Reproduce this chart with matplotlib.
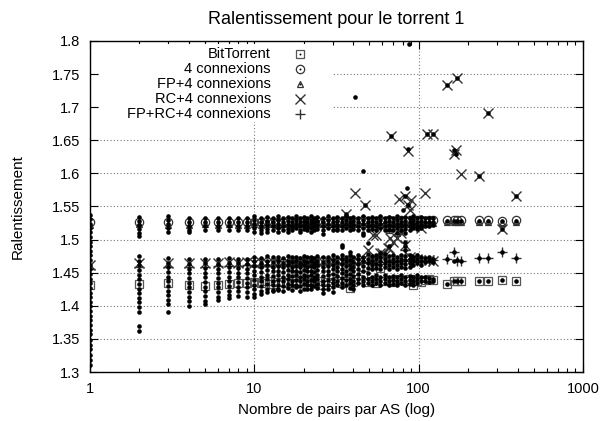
import matplotlib
matplotlib.use("Agg")
import matplotlib.pyplot as plt
from matplotlib.patches import Rectangle
from matplotlib.ticker import LogLocator, NullFormatter

plt.rcParams["font.family"] = ["Liberation Sans", "DejaVu Sans"]

# x positions (number of peers per AS)
cols = [1, 2, 3, 4, 5, 6, 7, 8, 9,
        10, 11, 12, 13, 14, 15, 16, 17, 18, 19, 20, 21, 22, 23, 24,
        26, 28, 30, 32, 34, 36, 38, 40, 43, 46, 49, 52, 55, 58,
        62, 66, 70, 74, 78, 83, 88, 93, 98, 104, 110, 116, 122,
        148, 165, 172, 180, 232, 264, 321, 390]

# mean slowdown per configuration
bt_y = [1.432, 1.433, 1.434, 1.431, 1.430, 1.431, 1.433, 1.434, 1.435,
        1.436, 1.434, 1.437, 1.433, 1.436, 1.436, 1.435, 1.438, 1.434, 1.437, 1.438, 1.439, 1.436, 1.434, 1.437,
        1.431, 1.436, 1.442, 1.437, 1.435, 1.438, 1.427, 1.436, 1.440, 1.446, 1.436, 1.438, 1.434, 1.457,
        1.437, 1.439, 1.436, 1.441, 1.439, 1.438, 1.440, 1.431, 1.438, 1.436, 1.439, 1.440, 1.439,
        1.433, 1.437, 1.438, 1.437, 1.437, 1.437, 1.439, 1.437]
c4_y = [1.527, 1.527, 1.527, 1.526, 1.527, 1.527, 1.527, 1.526, 1.527,
        1.527, 1.526, 1.528, 1.527, 1.527, 1.526, 1.528, 1.527, 1.527, 1.528, 1.527, 1.526, 1.528, 1.527, 1.528,
        1.527, 1.528, 1.527, 1.528, 1.527, 1.528, 1.528, 1.527, 1.528, 1.529, 1.528, 1.527, 1.528, 1.529,
        1.528, 1.529, 1.528, 1.527, 1.529, 1.528, 1.529, 1.528, 1.529, 1.529, 1.528, 1.529, 1.529,
        1.529, 1.529, 1.530, 1.529, 1.529, 1.529, 1.528, 1.529]
fp4_y = [1.522, 1.523, 1.522, 1.522, 1.523, 1.522, 1.523, 1.522, 1.522,
         1.523, 1.522, 1.523, 1.523, 1.522, 1.523, 1.523, 1.522, 1.523, 1.524, 1.523, 1.522, 1.523, 1.524, 1.523,
         1.523, 1.524, 1.523, 1.524, 1.523, 1.524, 1.523, 1.524, 1.524, 1.523, 1.524, 1.523, 1.524, 1.522,
         1.524, 1.514, 1.523, 1.510, 1.524, 1.523, 1.524, 1.525, 1.524, 1.525, 1.524, 1.525, 1.525,
         1.526, 1.526, 1.527, 1.526, 1.526, 1.526, 1.525, 1.526]
rc_y = [1.461, 1.464, 1.465, 1.464, 1.465, 1.465, 1.466, 1.465, 1.466,
        1.465, 1.466, 1.465, 1.466, 1.466, 1.465, 1.466, 1.467, 1.466, 1.466, 1.467, 1.466, 1.467, 1.466, 1.467,
        1.466, 1.467, 1.468, 1.467, 1.468, 1.467, 1.468, 1.468, 1.468, 1.470, 1.484, 1.470, 1.507, 1.480,
        1.477, 1.487, 1.496, 1.502, 1.510, 1.492, 1.474, 1.472, 1.470, 1.517, 1.570, 1.469, 1.468,
        1.733, 1.629, 1.744, 1.599, 1.596, 1.691, 1.516, 1.566]
fprc_y = [1.455, 1.458, 1.458, 1.459, 1.459, 1.460, 1.460, 1.460, 1.461,
          1.460, 1.461, 1.460, 1.461, 1.461, 1.462, 1.461, 1.462, 1.461, 1.462, 1.462, 1.463, 1.462, 1.463, 1.462,
          1.463, 1.463, 1.464, 1.463, 1.464, 1.464, 1.465, 1.464, 1.465, 1.465, 1.466, 1.465, 1.466, 1.466,
          1.466, 1.467, 1.466, 1.467, 1.467, 1.484, 1.468, 1.467, 1.468, 1.468, 1.469, 1.468, 1.469,
          1.470, 1.481, 1.468, 1.468, 1.472, 1.472, 1.481, 1.472]

# RC+4 scattered points above the band
rc_extra_x = [36, 41, 47, 53, 60, 65, 67, 68, 76, 82, 86, 88, 90, 86, 113, 122, 168]
rc_extra_y = [1.539, 1.570, 1.552, 1.507, 1.480, 1.488, 1.502, 1.657, 1.562, 1.566, 1.553, 1.545, 1.560,
              1.634, 1.659, 1.659, 1.636]

# individual slowdowns (small dots), upper and lower clusters per column
dot_upper = [
    [1.537, 1.531, 1.524, 1.518, 1.511, 1.504],
    [1.534, 1.528, 1.522, 1.516, 1.510, 1.505],
    [1.535, 1.529, 1.523, 1.517, 1.511],
    [1.533, 1.527, 1.521, 1.515, 1.512],
    [1.532, 1.526, 1.520, 1.514],
    [1.532, 1.526, 1.520, 1.514],
    [1.533, 1.527, 1.521, 1.515],
    [1.533, 1.527, 1.521, 1.514],
    [1.532, 1.526, 1.520, 1.514],
    [1.535, 1.529, 1.523, 1.517, 1.511],
    [1.533, 1.527, 1.521, 1.515, 1.510],
    [1.534, 1.528, 1.522, 1.516, 1.512],
    [1.532, 1.526, 1.520, 1.514],
    [1.535, 1.529, 1.523, 1.517, 1.512],
    [1.533, 1.527, 1.521, 1.515],
    [1.534, 1.528, 1.522, 1.516, 1.511],
    [1.532, 1.526, 1.520, 1.514],
    [1.535, 1.529, 1.523, 1.517],
    [1.533, 1.527, 1.521, 1.515, 1.511],
    [1.534, 1.528, 1.522, 1.516],
    [1.532, 1.526, 1.520, 1.514],
    [1.535, 1.529, 1.523, 1.517, 1.512],
    [1.533, 1.527, 1.521, 1.515],
    [1.534, 1.528, 1.522, 1.516],
    [1.532, 1.526, 1.520, 1.514, 1.508],
    [1.535, 1.529, 1.523, 1.517],
    [1.533, 1.527, 1.521, 1.515],
    [1.534, 1.528, 1.522, 1.516, 1.514],
    [1.532, 1.526, 1.520, 1.514],
    [1.535, 1.529, 1.523, 1.517],
    [1.533, 1.527, 1.521, 1.515],
    [1.534, 1.528, 1.522, 1.516],
    [1.532, 1.526, 1.520, 1.514],
    [1.535, 1.529, 1.523, 1.517, 1.510],
    [1.533, 1.527, 1.521, 1.515],
    [1.534, 1.528, 1.522, 1.516],
    [1.532, 1.526, 1.520, 1.514],
    [1.535, 1.529, 1.523, 1.517],
    [1.533, 1.527, 1.521, 1.515],
    [1.534, 1.528, 1.522, 1.516, 1.514],
    [1.532, 1.526, 1.520, 1.515],
    [1.535, 1.529, 1.523, 1.517, 1.510],
    [1.533, 1.527, 1.521, 1.515],
    [1.534, 1.528, 1.522, 1.516, 1.510],
    [1.532, 1.526, 1.520, 1.515],
    [1.535, 1.529, 1.523, 1.517],
    [1.533, 1.527, 1.521, 1.516],
    [1.534, 1.528, 1.522],
    [1.533, 1.527, 1.521],
    [1.532, 1.526, 1.520],
    [1.533, 1.527, 1.522],
    [1.528], [1.528], [1.528], [1.528], [1.528], [1.528], [1.528], [1.528],
]
dot_lower = [
    [1.497, 1.490, 1.483, 1.476, 1.469, 1.462, 1.455, 1.448, 1.441, 1.434, 1.427, 1.420, 1.413, 1.406,
     1.399, 1.392, 1.385, 1.378, 1.371, 1.364, 1.357, 1.349, 1.341, 1.334, 1.326, 1.318, 1.311],
    [1.475, 1.468, 1.461, 1.454, 1.447, 1.440, 1.433, 1.426, 1.419, 1.412, 1.405, 1.398, 1.391, 1.370, 1.362],
    [1.472, 1.465, 1.458, 1.451, 1.444, 1.437, 1.430, 1.423, 1.416, 1.409, 1.403, 1.390],
    [1.470, 1.463, 1.456, 1.449, 1.442, 1.435, 1.428, 1.421, 1.414, 1.407, 1.400],
    [1.471, 1.464, 1.457, 1.450, 1.443, 1.436, 1.429, 1.422, 1.415, 1.408, 1.402],
    [1.470, 1.463, 1.456, 1.449, 1.442, 1.435, 1.428, 1.421, 1.414, 1.409],
    [1.472, 1.465, 1.458, 1.451, 1.444, 1.437, 1.430, 1.423, 1.416, 1.412],
    [1.471, 1.464, 1.457, 1.450, 1.443, 1.436, 1.429, 1.422, 1.415],
    [1.470, 1.463, 1.456, 1.449, 1.442, 1.435, 1.428, 1.421, 1.414],
    [1.474, 1.467, 1.460, 1.453, 1.446, 1.439, 1.432, 1.425, 1.418, 1.414],
    [1.472, 1.465, 1.458, 1.451, 1.444, 1.437, 1.430, 1.423, 1.418],
    [1.475, 1.468, 1.461, 1.454, 1.447, 1.440, 1.433, 1.426, 1.421],
    [1.473, 1.466, 1.459, 1.452, 1.445, 1.438, 1.431, 1.424, 1.422],
    [1.474, 1.467, 1.460, 1.453, 1.446, 1.439, 1.432, 1.425, 1.424],
    [1.472, 1.465, 1.458, 1.451, 1.444, 1.437, 1.430, 1.423],
    [1.475, 1.468, 1.461, 1.454, 1.447, 1.440, 1.433, 1.427],
    [1.473, 1.466, 1.459, 1.452, 1.445, 1.438, 1.431, 1.424],
    [1.474, 1.467, 1.460, 1.453, 1.446, 1.439, 1.432, 1.428],
    [1.472, 1.465, 1.458, 1.451, 1.444, 1.437, 1.430, 1.423],
    [1.475, 1.468, 1.461, 1.454, 1.447, 1.440, 1.433, 1.426],
    [1.473, 1.466, 1.459, 1.452, 1.445, 1.438, 1.431, 1.425],
    [1.474, 1.467, 1.460, 1.453, 1.446, 1.439, 1.432, 1.426],
    [1.472, 1.465, 1.458, 1.451, 1.444, 1.437, 1.430],
    [1.475, 1.468, 1.461, 1.454, 1.447, 1.440, 1.433, 1.427],
    [1.473, 1.466, 1.459, 1.452, 1.445, 1.438, 1.431, 1.425, 1.419],
    [1.474, 1.467, 1.460, 1.453, 1.446, 1.439, 1.432, 1.426],
    [1.476, 1.469, 1.462, 1.455, 1.448, 1.441, 1.434, 1.428, 1.421],
    [1.473, 1.466, 1.459, 1.452, 1.445, 1.438, 1.431],
    [1.477, 1.470, 1.463, 1.456, 1.449, 1.442, 1.435, 1.429, 1.492, 1.489],
    [1.474, 1.467, 1.460, 1.453, 1.446, 1.439, 1.432],
    [1.476, 1.469, 1.462, 1.455, 1.448, 1.441, 1.434, 1.427, 1.481],
    [1.473, 1.466, 1.459, 1.452, 1.445, 1.438, 1.431, 1.425],
    [1.477, 1.470, 1.463, 1.456, 1.448, 1.441, 1.434],
    [1.474, 1.467, 1.460, 1.453, 1.443, 1.437, 1.431, 1.507],
    [1.478, 1.471, 1.464, 1.457, 1.450, 1.441, 1.435, 1.495],
    [1.475, 1.468, 1.461, 1.455, 1.444, 1.438, 1.432],
    [1.477, 1.470, 1.463, 1.457, 1.446, 1.440, 1.434],
    [1.474, 1.467, 1.461, 1.455, 1.443, 1.437, 1.431, 1.480],
    [1.478, 1.471, 1.464, 1.458, 1.446, 1.440, 1.434],
    [1.475, 1.468, 1.462, 1.456, 1.443, 1.437, 1.431, 1.490],
    [1.477, 1.471, 1.465, 1.459, 1.445, 1.439, 1.433],
    [1.474, 1.468, 1.462, 1.456, 1.444, 1.438, 1.432],
    [1.476, 1.470, 1.464, 1.458, 1.446, 1.440, 1.434],
    [1.475, 1.469, 1.463, 1.457, 1.443, 1.437, 1.431, 1.496, 1.490, 1.484],
    [1.477, 1.471, 1.465, 1.459, 1.445, 1.439, 1.433],
    [1.474, 1.468, 1.462, 1.444, 1.438, 1.432],
    [1.476, 1.470, 1.464, 1.446, 1.440, 1.434],
    [1.474, 1.468, 1.462, 1.443, 1.437],
    [1.472, 1.466, 1.444, 1.438],
    [1.473, 1.467, 1.442, 1.436],
    [1.471, 1.466, 1.441, 1.437],
    [1.470, 1.433], [1.481, 1.468, 1.437], [1.469, 1.438], [1.468, 1.437],
    [1.472, 1.437], [1.472, 1.437], [1.481, 1.439], [1.472, 1.437],
]
dot_extra_x = [87, 41, 46, 85, 86, 68, 148, 172, 264, 113, 122, 165, 168, 232, 47, 36, 82, 86, 390, 321, 104, 80]
dot_extra_y = [1.795, 1.715, 1.604, 1.578, 1.637, 1.657, 1.733, 1.744, 1.691, 1.659, 1.659, 1.635, 1.629,
               1.596, 1.552, 1.539, 1.566, 1.553, 1.566, 1.516, 1.517, 1.545]

labels = ["BitTorrent", "4 connexions", "FP+4 connexions", "RC+4 connexions", "FP+RC+4 connexions"]
y_ticks = [1.3, 1.35, 1.4, 1.45, 1.5, 1.55, 1.6, 1.65, 1.7, 1.75, 1.8]
y_ticklabels = ["1.3", "1.35", "1.4", "1.45", "1.5", "1.55", "1.6", "1.65", "1.7", "1.75", "1.8"]
x_ticks = [1, 10, 100, 1000]
x_ticklabels = ["1", "10", "100", "1000"]

MK = "#333333"
styles = [dict(marker="s", ms=6.0, mew=0.9, mec="#555555"),
          dict(marker="o", ms=6.0, mew=0.9, mec=MK),
          dict(marker="^", ms=5.0, mew=0.9, mec=MK),
          dict(marker="x", ms=6.5, mew=1.0, mec=MK),
          dict(marker="+", ms=7.5, mew=1.0, mec=MK)]
key_dot = [True, True, True, False, False]   # gnuplot draws a centre pixel in the key symbol

fig = plt.figure(figsize=(6.03, 4.21), dpi=100)
ax = fig.add_axes([90 / 603, 1 - 372 / 421, 493 / 603, 331 / 421])
ax.set_axisbelow(True)

series = [(cols, bt_y), (cols, c4_y), (cols, fp4_y),
          (cols + rc_extra_x, rc_y + rc_extra_y), (cols, fprc_y)]
for (xs, ys), st in zip(series, styles):
    ax.plot(xs, ys, ls="none", mfc="none", zorder=2, **st)

# raw dots on top
dx, dy = [], []
for x, up, lo in zip(cols, dot_upper, dot_lower):
    dx += [x] * (len(up) + len(lo))
    dy += up + lo
dx += dot_extra_x
dy += dot_extra_y
ax.plot(dx, dy, ls="none", marker="o", ms=3.3, mew=0, color="black", zorder=3)

ax.set_xscale("log")
ax.set_xlim(1, 1000)
ax.set_ylim(1.3, 1.8)
ax.set_xticks(x_ticks)
ax.set_xticklabels(x_ticklabels)
ax.xaxis.set_minor_locator(LogLocator(base=10, subs=range(2, 10)))
ax.xaxis.set_minor_formatter(NullFormatter())
ax.set_yticks(y_ticks)
ax.set_yticklabels(y_ticklabels)
ax.tick_params(which="both", direction="in", top=True, right=True, labelsize=10.5, pad=7)
ax.tick_params(which="major", length=6, width=0.8)
ax.tick_params(which="minor", length=3, width=0.8)
ax.grid(True, which="major", ls=(0, (1, 2)), color="#777777", lw=0.8)
for sp in ax.spines.values():
    sp.set_linewidth(1.0)

ax.set_title("Ralentissement pour le torrent 1", fontsize=13, pad=12)
ax.set_xlabel("Nombre de pairs par AS (log)", fontsize=11)
ax.set_ylabel("Ralentissement", fontsize=11)
ax.xaxis.set_label_coords(0.5, -0.094)
ax.yaxis.set_label_coords(-0.132, 0.5)

# key box (gnuplot style: label right-aligned, symbol on the right)
ax.add_patch(Rectangle((0.02, 0.755), 0.473, 0.236, transform=ax.transAxes,
                       facecolor="white", edgecolor="none", zorder=1.5))
for i, (lab, st, dot) in enumerate(zip(labels, styles, key_dot)):
    yy = 0.961 - i * 0.0455
    ax.text(0.367, yy, lab, transform=ax.transAxes, ha="right", va="center", fontsize=10.5, zorder=4)
    ax.plot([0.426], [yy], transform=ax.transAxes, ls="none", mfc="none", clip_on=False, zorder=4, **st)
    if dot:
        ax.plot([0.426], [yy], transform=ax.transAxes, ls="none", marker="o", ms=1.4, mew=0,
                color="black", clip_on=False, zorder=4)

fig.savefig("out.png", dpi=100)
